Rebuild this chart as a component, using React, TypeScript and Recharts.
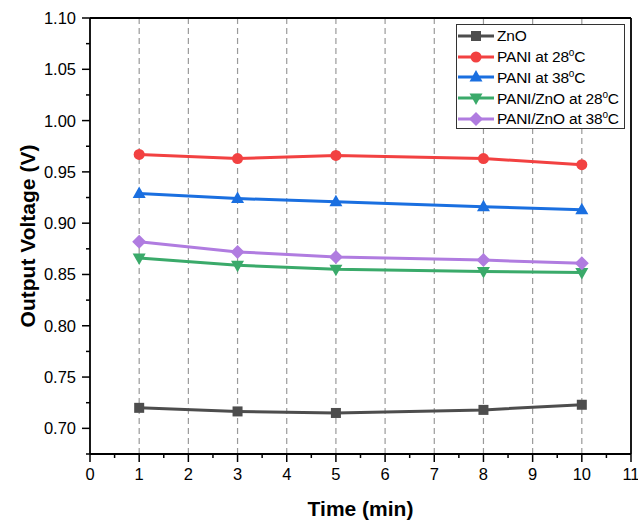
import { Label, Line, LineChart, ReferenceLine, XAxis, YAxis } from "recharts";

const times = [1, 3, 5, 8, 10];
const zno = [0.72, 0.7165, 0.715, 0.718, 0.723];
const pani28 = [0.967, 0.963, 0.966, 0.963, 0.957];
const pani38 = [0.929, 0.924, 0.921, 0.916, 0.913];
const paniZno28 = [0.866, 0.859, 0.855, 0.853, 0.852];
const paniZno38 = [0.882, 0.872, 0.867, 0.864, 0.861];

const xMajor = [0, 1, 2, 3, 4, 5, 6, 7, 8, 9, 10, 11];
const xMinor = [0.5, 1.5, 2.5, 3.5, 4.5, 5.5, 6.5, 7.5, 8.5, 9.5, 10.5];
const yMajor = [0.7, 0.75, 0.8, 0.85, 0.9, 0.95, 1.0, 1.05, 1.1];
const yMinor = [0.675, 0.725, 0.775, 0.825, 0.875, 0.925, 0.975, 1.025, 1.075];

type Shape = "square" | "circle" | "triangle" | "triangleDown" | "diamond";

const series: Array<{ key: string; name: string; color: string; shape: Shape; values: number[] }> = [
  { key: "zno", name: "ZnO", color: "#4d4d4d", shape: "square", values: zno },
  { key: "pani28", name: "PANI at 28", color: "#f24141", shape: "circle", values: pani28 },
  { key: "pani38", name: "PANI at 38", color: "#1a6fe0", shape: "triangle", values: pani38 },
  { key: "paniZno28", name: "PANI/ZnO at 28", color: "#3aaa6a", shape: "triangleDown", values: paniZno28 },
  { key: "paniZno38", name: "PANI/ZnO at 38", color: "#b07ce0", shape: "diamond", values: paniZno38 },
];

const data = times.map((t, i) => {
  const row: Record<string, number> = { time: t };
  series.forEach((s) => (row[s.key] = s.values[i]));
  return row;
});

const FONT = "'Liberation Sans', Arial, sans-serif";
const TICK_SIZE = 8;
const MINOR_SIZE = 4;
const TICK_MARGIN = 6;
const isMajor = (list: number[], v: number) => list.some((m) => Math.abs(m - v) < 1e-6);

function Marker({ cx, cy, shape, color }: { cx: number; cy: number; shape: Shape; color: string }) {
  if (cx == null || cy == null) return null;
  switch (shape) {
    case "square":
      return <rect x={cx - 5} y={cy - 5} width={10} height={10} fill={color} />;
    case "circle":
      return <circle cx={cx} cy={cy} r={5.5} fill={color} />;
    case "triangle":
      return <polygon points={`${cx},${cy - 7} ${cx + 6.5},${cy + 4.5} ${cx - 6.5},${cy + 4.5}`} fill={color} />;
    case "triangleDown":
      return <polygon points={`${cx},${cy + 7} ${cx + 6.5},${cy - 4.5} ${cx - 6.5},${cy - 4.5}`} fill={color} />;
    case "diamond":
      return <polygon points={`${cx},${cy - 7} ${cx + 7},${cy} ${cx},${cy + 7} ${cx - 7},${cy}`} fill={color} />;
  }
  return null;
}

// tick + label drawn together so minor ticks get no label and a shorter line
function XTick({ x, y, payload }: any) {
  const major = isMajor(xMajor, payload.value);
  const axisY = y - TICK_SIZE - TICK_MARGIN;
  return (
    <g>
      <line x1={x} x2={x} y1={axisY} y2={axisY + (major ? TICK_SIZE : MINOR_SIZE)} stroke="#000" strokeWidth={1.5} />
      {major && (
        <text x={x} y={y} dy="0.75em" textAnchor="middle" fill="#000" fontSize={16.5}>
          {payload.value}
        </text>
      )}
    </g>
  );
}

function YTick({ x, y, payload }: any) {
  const major = isMajor(yMajor, payload.value);
  const axisX = x + TICK_SIZE + TICK_MARGIN;
  return (
    <g>
      <line x1={axisX} x2={axisX - (major ? TICK_SIZE : MINOR_SIZE)} y1={y} y2={y} stroke="#000" strokeWidth={1.5} />
      {major && (
        <text x={x} y={y} dy="0.36em" textAnchor="end" fill="#000" fontSize={16.5}>
          {payload.value.toFixed(2)}
        </text>
      )}
    </g>
  );
}

function LegendBox() {
  return (
    <div
      style={{
        position: "absolute",
        left: 456,
        top: 24,
        width: 169,
        height: 105,
        border: "1px solid #333",
        background: "#fff",
        fontFamily: FONT,
        fontSize: 15.5,
        color: "#000",
        paddingTop: 1,
        boxSizing: "border-box",
      }}
    >
      {series.map((s) => (
        <div key={s.key} style={{ display: "flex", alignItems: "center", height: 20.6 }}>
          <svg width={38} height={18} style={{ flex: "none" }}>
            <line x1={1} y1={9} x2={37} y2={9} stroke={s.color} strokeWidth={3} />
            <Marker cx={19} cy={9} shape={s.shape} color={s.color} />
          </svg>
          <span style={{ marginLeft: 2, whiteSpace: "nowrap", letterSpacing: -0.2 }}>
            {s.name}
            {s.key !== "zno" && (
              <>
                <sup style={{ fontSize: 10 }}>o</sup>C
              </>
            )}
          </span>
        </div>
      ))}
    </div>
  );
}

export default function App() {
  return (
    <div style={{ position: "absolute", left: 0, top: 0, width: 638, height: 524, background: "#fff" }}>
      <LineChart
        width={638}
        height={524}
        data={data}
        margin={{ top: 18, right: 7, bottom: 0, left: 0 }}
        style={{ fontFamily: FONT }}
      >
        {xMajor.slice(1, -1).map((v) => (
          <ReferenceLine key={`g${v}`} x={v} stroke="#9a9a9a" strokeDasharray="6 4" strokeWidth={1.2} />
        ))}
        <XAxis
          type="number"
          dataKey="time"
          domain={[0, 11]}
          ticks={[...xMajor, ...xMinor].sort((a, b) => a - b)}
          interval={0}
          tickSize={TICK_SIZE}
          tickMargin={TICK_MARGIN}
          tickLine={false}
          tick={<XTick />}
          axisLine={{ stroke: "#000", strokeWidth: 1.8 }}
          height={70}
        >
          <Label
            value="Time (min)"
            position="insideBottom"
            offset={8}
            style={{ fontSize: 21, fontWeight: "bold", fill: "#000" }}
          />
        </XAxis>
        <YAxis
          type="number"
          domain={[0.675, 1.1]}
          ticks={[...yMajor, ...yMinor].sort((a, b) => a - b)}
          interval={0}
          tickSize={TICK_SIZE}
          tickMargin={TICK_MARGIN}
          tickLine={false}
          tick={<YTick />}
          axisLine={{ stroke: "#000", strokeWidth: 1.8 }}
          width={90}
        >
          <Label
            content={({ viewBox }: any) => {
              const cx = viewBox.x + 27;
              const cy = viewBox.y + viewBox.height / 2;
              return (
                <text
                  x={cx}
                  y={cy}
                  transform={`rotate(-90, ${cx}, ${cy})`}
                  textAnchor="middle"
                  dominantBaseline="central"
                  style={{ fontSize: 21, fontWeight: "bold", fill: "#000" }}
                >
                  Output Voltage (V)
                </text>
              );
            }}
          />
        </YAxis>
        <ReferenceLine y={1.1} stroke="#000" strokeWidth={1.8} />
        <ReferenceLine x={11} stroke="#000" strokeWidth={1.8} />
        {series.map((s) => (
          <Line
            key={s.key}
            dataKey={s.key}
            name={s.name}
            stroke={s.color}
            strokeWidth={3}
            isAnimationActive={false}
            dot={(p: any) => (
              <Marker key={`${s.key}-${p.index}`} cx={p.cx} cy={p.cy} shape={s.shape} color={s.color} />
            )}
            activeDot={false}
          />
        ))}
      </LineChart>
      <LegendBox />
    </div>
  );
}
